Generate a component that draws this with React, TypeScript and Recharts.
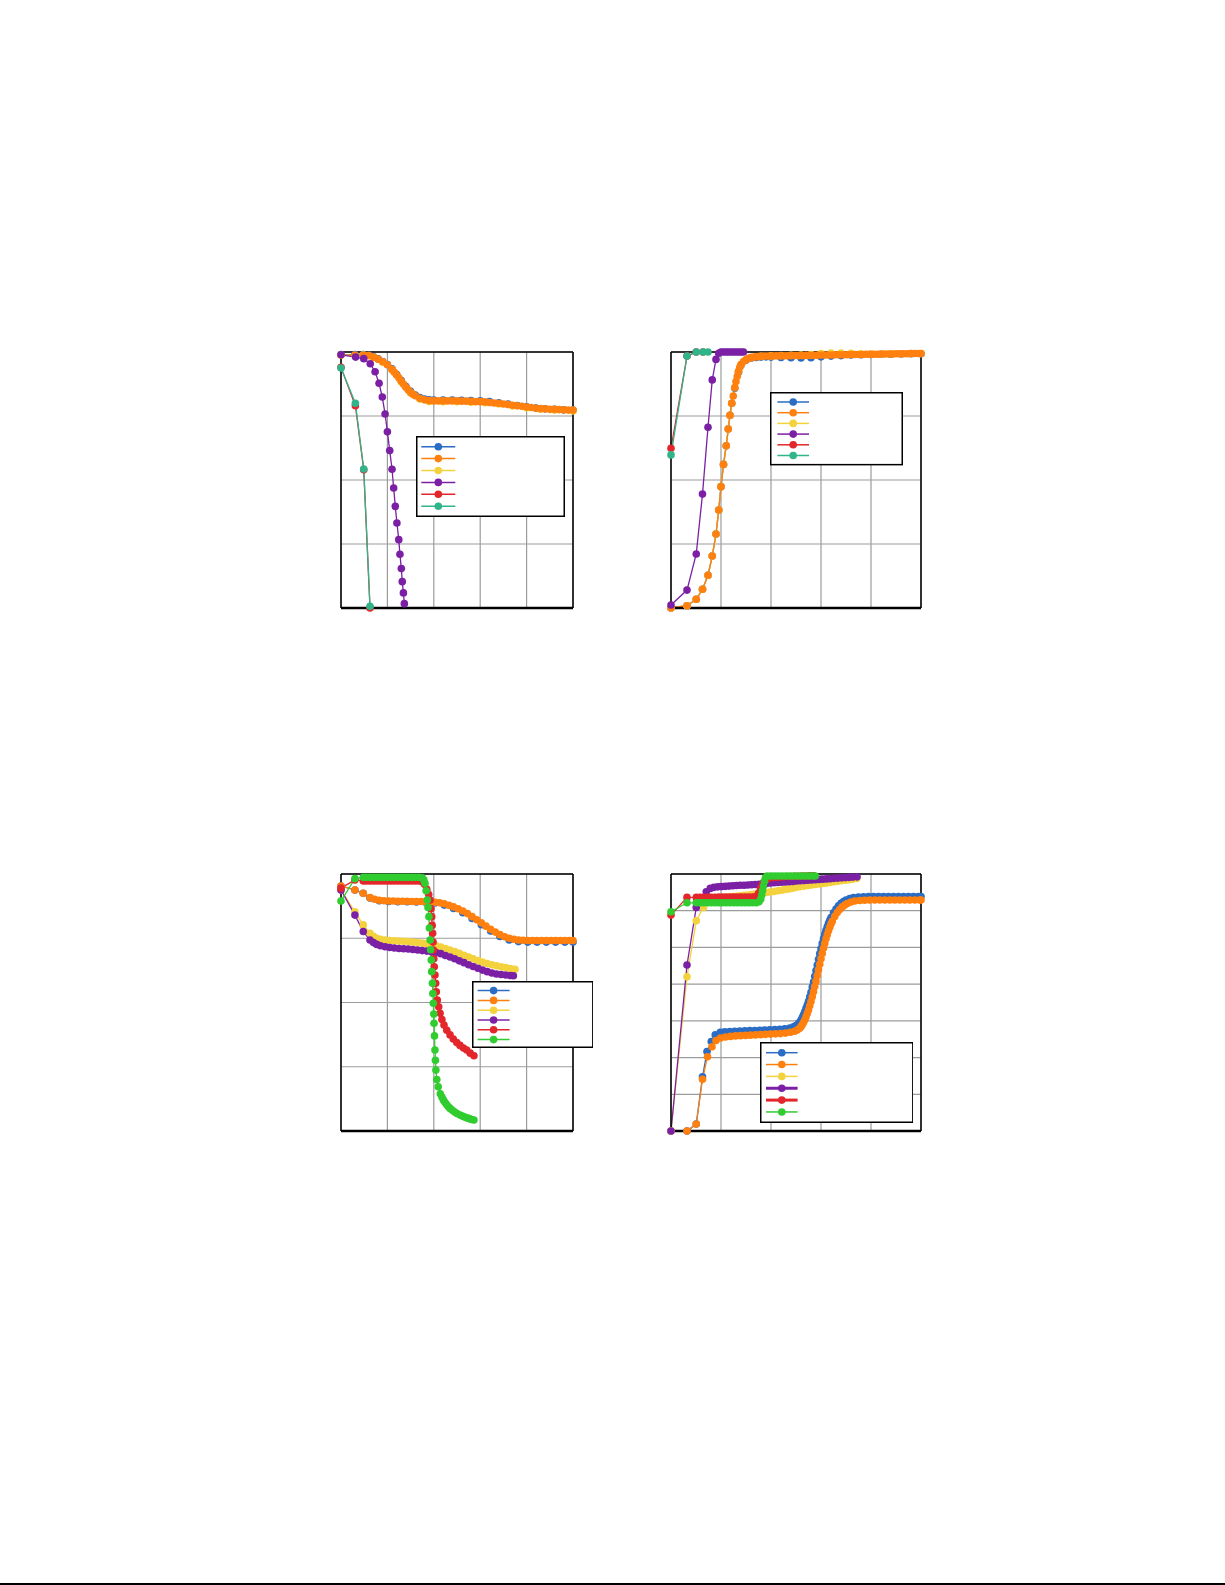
import { CartesianGrid, Legend, Line, LineChart, XAxis, YAxis } from 'recharts'

type Pt = [number, number]

// ---- top left panel
const c1Blue: Pt[] = [[0,0.99],[6,0.99],[9.6,0.99],[12,0.987],[14,0.981],[16,0.973],[18,0.963],[20,0.951],[22,0.934],[24,0.912],[26,0.888],[28,0.865],[30,0.846],[32,0.832],[34,0.822],[36,0.816],[38,0.813],[40,0.812],[44,0.812],[48,0.812],[52,0.811],[56,0.81],[60,0.809],[64,0.806],[68,0.802],[72,0.797],[76,0.791],[80,0.786],[84,0.781],[88,0.778],[92,0.776],[96,0.774],[100,0.773]]
const c1Orange: Pt[] = [[0,0.988],[6,0.988],[9.6,0.988],[12,0.986],[14,0.98],[16,0.972],[18,0.962],[20,0.95],[22,0.932],[23,0.921],[24,0.91],[25,0.898],[26,0.886],[27,0.874],[28,0.862],[29,0.852],[30,0.843],[31,0.835],[32,0.829],[34,0.819],[36,0.813],[38,0.81],[40,0.809],[42,0.809],[44,0.809],[46,0.809],[48,0.809],[50,0.809],[52,0.808],[54,0.808],[56,0.807],[58,0.806],[60,0.806],[62,0.805],[64,0.803],[66,0.801],[68,0.8],[70,0.797],[72,0.795],[74,0.792],[76,0.79],[78,0.788],[80,0.785],[82,0.783],[84,0.78],[86,0.779],[88,0.778],[90,0.776],[92,0.776],[94,0.775],[96,0.774],[98,0.773],[100,0.773]]
const c1Yellow: Pt[] = [[0,0.988],[9.6,0.988],[14,0.979],[18,0.96],[22,0.93],[26,0.883],[30,0.84],[34,0.816],[38,0.807],[44,0.806],[50,0.806],[56,0.804],[62,0.802],[68,0.797],[74,0.789],[80,0.782],[86,0.776],[92,0.773],[100,0.77]]
const c1Purple: Pt[] = [[0,0.989],[6.3,0.98],[9.8,0.974],[12.6,0.954],[14.7,0.923],[16.4,0.878],[17.8,0.824],[19,0.758],[20,0.688],[21,0.615],[22,0.542],[22.7,0.469],[23.4,0.397],[24.1,0.332],[24.9,0.267],[25.4,0.21],[26,0.154],[26.4,0.103],[26.9,0.059],[27.3,0.017]]
const c1Red: Pt[] = [[0,0.94],[6.2,0.79],[9.8,0.54],[12.5,0]]
const c1Teal: Pt[] = [[0,0.9375],[6.2,0.8],[9.8,0.543],[12.5,0.007]]

// ---- top right panel
const c2Orange: Pt[] = [[0,0],[6.4,0.009],[10.1,0.034],[12.6,0.073],[14.8,0.128],[16.5,0.203],[18,0.289],[19.1,0.383],[20,0.474],[21,0.561],[22.1,0.634],[22.9,0.699],[23.6,0.753],[24.3,0.8],[24.9,0.828],[25.5,0.861],[26,0.885],[26.5,0.905],[27,0.925],[27.5,0.94],[28,0.951],[29,0.963],[30,0.97],[31,0.975],[32,0.978],[33,0.98],[34,0.981],[35,0.982],[36,0.983],[37.5,0.984],[39,0.984],[40.5,0.984],[42,0.985],[43.5,0.985],[45,0.985],[46.5,0.985],[48,0.986],[49.5,0.986],[51,0.986],[52.5,0.986],[54,0.987],[55.5,0.987],[57,0.987],[58.5,0.987],[60,0.988],[61.5,0.988],[63,0.988],[64.5,0.988],[66,0.989],[67.5,0.989],[69,0.989],[70.5,0.989],[72,0.99],[73.5,0.99],[75,0.99],[76.5,0.99],[78,0.991],[79.5,0.991],[81,0.991],[82.5,0.991],[84,0.992],[85.5,0.992],[87,0.992],[88.5,0.992],[90,0.993],[91.5,0.993],[93,0.993],[94.5,0.993],[96,0.994],[97.5,0.994],[99,0.994],[100,0.994]]
const c2Blue: Pt[] = [[0,0],[6.4,0.009],[10.1,0.034],[12.6,0.073],[14.8,0.128],[16.5,0.203],[18,0.289],[19.1,0.383],[20,0.474],[21,0.561],[22.1,0.634],[22.9,0.699],[23.6,0.753],[24.3,0.8],[25.5,0.858],[27,0.921],[28,0.948],[30,0.968],[32,0.976],[34,0.979],[36,0.98],[38,0.981],[40,0.98],[44,0.979],[48,0.978],[52,0.977],[56,0.978],[60,0.981],[64,0.984],[68,0.986],[72,0.988],[76,0.989],[80,0.99],[84,0.991],[88,0.991],[92,0.992],[96,0.993],[100,0.993]]
const c2Yellow: Pt[] = [[0,0],[6.4,0.009],[10.1,0.034],[12.6,0.073],[14.8,0.128],[16.5,0.203],[18,0.289],[19.1,0.383],[20,0.474],[21,0.561],[22.1,0.634],[22.9,0.699],[23.6,0.753],[24.3,0.8],[25.5,0.861],[27,0.925],[28,0.951],[30,0.97],[32,0.978],[36,0.983],[40,0.985],[44,0.986],[48,0.987],[52,0.988],[56,0.99],[60,0.994],[64,0.996],[68,0.996],[72,0.995],[76,0.993],[80,0.992],[84,0.992],[88,0.993],[92,0.993],[96,0.994],[100,0.994]]
const c2Purple: Pt[] = [[0,0.012],[6.4,0.07],[10.1,0.211],[12.6,0.445],[14.8,0.706],[16.5,0.891],[18,0.971],[19.1,0.995],[20,1],[21,1],[22,1],[23,1],[24,1],[25,1],[26,1],[27,1],[28,1],[29,1]]
const c2Red: Pt[] = [[0,0.624],[6.4,0.984],[10.1,1],[12.8,1]]
const c2Teal: Pt[] = [[0,0.598],[6.4,0.984],[10.1,1],[12.8,1],[14.8,1]]

// ---- bottom left panel
const c3Blue: Pt[] = [[0,0.953],[6,0.938],[9.6,0.925],[12.5,0.907],[16.5,0.896],[20.5,0.893],[24.5,0.892],[28.5,0.892],[32.5,0.891],[36.5,0.89],[40.5,0.887],[44.5,0.879],[48.5,0.866],[52.5,0.849],[56.5,0.827],[60.5,0.803],[64.5,0.778],[68.5,0.757],[72.5,0.743],[76.5,0.737],[80.5,0.735],[84.5,0.735],[88.5,0.735],[92.5,0.735],[96.5,0.735],[100,0.735]]
const c3Orange: Pt[] = [[0,0.953],[6,0.938],[9.6,0.925],[12.5,0.908],[14.5,0.902],[16.5,0.898],[18.5,0.896],[20.5,0.895],[22.5,0.895],[24.5,0.894],[26.5,0.894],[28.5,0.894],[30.5,0.893],[32.5,0.893],[34.5,0.893],[36.5,0.892],[38.5,0.891],[40.5,0.89],[42.5,0.888],[44.5,0.884],[46.5,0.878],[48.5,0.872],[50.5,0.865],[52.5,0.856],[54.5,0.846],[56.5,0.834],[58.5,0.822],[60.5,0.81],[62.5,0.797],[64.5,0.785],[66.5,0.774],[68.5,0.764],[70.5,0.756],[72.5,0.75],[74.5,0.746],[76.5,0.743],[78.5,0.742],[80.5,0.741],[82.5,0.741],[84.5,0.741],[86.5,0.741],[88.5,0.741],[90.5,0.741],[92.5,0.741],[94.5,0.741],[96.5,0.741],[98.5,0.741],[100,0.741]]
const c3Yellow: Pt[] = [[0,0.938],[6,0.853],[9.6,0.802],[12.5,0.769],[14,0.758],[15.4,0.75],[17,0.746],[19,0.743],[21,0.741],[23,0.74],[25,0.739],[27,0.738],[29,0.737],[31,0.735],[33,0.733],[35,0.731],[37,0.728],[39,0.725],[41,0.721],[43,0.716],[45,0.71],[47,0.704],[49,0.698],[51,0.691],[53,0.684],[55,0.677],[57,0.67],[59,0.663],[61,0.657],[63,0.652],[65,0.647],[67,0.643],[69,0.639],[71,0.636],[73,0.632],[75,0.629]]
const c3Purple: Pt[] = [[0,0.938],[6,0.84],[9.6,0.776],[12.5,0.743],[14,0.733],[15.4,0.726],[17,0.721],[19,0.717],[21,0.714],[23,0.712],[25,0.71],[27,0.709],[29,0.708],[31,0.706],[33,0.704],[35,0.702],[37,0.7],[39,0.697],[41,0.694],[43,0.69],[45,0.683],[47,0.677],[49,0.67],[51,0.662],[53,0.655],[55,0.647],[57,0.64],[59,0.633],[61,0.626],[63,0.62],[65,0.615],[67,0.611],[69,0.609],[71,0.607],[73,0.605],[74.3,0.604]]
const c3Red: Pt[] = [[0,0.945],[6,0.977],[9.6,0.973],[11,0.973],[12.5,0.973],[14,0.973],[15.5,0.973],[17,0.973],[18.5,0.973],[20,0.973],[21.5,0.973],[23,0.973],[24.5,0.973],[26,0.973],[27.5,0.973],[29,0.973],[30.5,0.973],[32,0.973],[33.5,0.973],[35,0.97],[36,0.96],[37,0.94],[37.8,0.92],[38.4,0.899],[38.8,0.865],[39.1,0.834],[39.3,0.8],[39.5,0.769],[39.7,0.735],[39.8,0.704],[40,0.67],[40.2,0.639],[40.5,0.607],[40.8,0.575],[41.1,0.542],[41.5,0.51],[42.1,0.483],[42.7,0.458],[43.5,0.434],[44.4,0.412],[45.6,0.392],[47,0.374],[48.4,0.358],[49.9,0.344],[51.3,0.333],[52.8,0.323],[54.2,0.315],[55.7,0.303],[57.3,0.293]]
const c3Green: Pt[] = [[0,0.895],[6,0.982],[9.6,0.987],[11,0.987],[12.5,0.987],[14,0.987],[15.5,0.987],[17,0.987],[18.5,0.987],[20,0.987],[21.5,0.987],[23,0.987],[24.5,0.987],[26,0.987],[27.5,0.987],[29,0.987],[30.5,0.987],[32,0.987],[33.5,0.987],[35,0.985],[35.7,0.977],[36.2,0.964],[36.7,0.935],[37.2,0.899],[37.5,0.87],[37.9,0.834],[38.1,0.79],[38.4,0.743],[38.6,0.705],[38.9,0.665],[39.1,0.62],[39.4,0.575],[39.6,0.535],[39.8,0.497],[40,0.455],[40.1,0.419],[40.3,0.37],[40.5,0.315],[40.7,0.275],[40.9,0.237],[41.3,0.2],[41.9,0.172],[42.8,0.145],[43.5,0.132],[44.1,0.121],[44.8,0.112],[45.5,0.103],[46.2,0.095],[47,0.088],[48,0.081],[49,0.074],[50,0.068],[51.3,0.062],[52.3,0.058],[53.3,0.054],[54.3,0.051],[55.3,0.048],[56.3,0.045],[57.3,0.043]]

// ---- bottom right panel
const c4Blue: Pt[] = [[0,0],[6.4,0],[10.1,0.027],[12.6,0.211],[14.4,0.309],[16.1,0.348],[17.7,0.374],[19.7,0.384],[21.5,0.386],[23.5,0.387],[25.5,0.388],[27.5,0.389],[29.5,0.39],[31.5,0.391],[33.5,0.391],[35.5,0.392],[37.5,0.393],[39.5,0.394],[41.5,0.395],[43.5,0.396],[45.5,0.398],[47.5,0.401],[49,0.405],[50,0.41],[51,0.418],[51.5,0.424],[52,0.432],[52.5,0.441],[53,0.452],[53.5,0.464],[54,0.477],[54.5,0.49],[55,0.505],[55.5,0.522],[56,0.54],[56.5,0.56],[57,0.58],[57.5,0.602],[58,0.624],[58.5,0.646],[59,0.668],[59.5,0.69],[60,0.71],[60.5,0.73],[61,0.748],[61.5,0.765],[62,0.781],[62.5,0.795],[63,0.808],[63.5,0.82],[64,0.831],[65,0.849],[66,0.864],[67,0.876],[68,0.886],[69,0.893],[70,0.899],[71.5,0.904],[73,0.908],[75,0.91],[77,0.911],[79,0.912],[81,0.912],[83,0.912],[85,0.912],[87,0.912],[89,0.912],[91,0.912],[93,0.912],[95,0.912],[97,0.912],[99,0.912],[100,0.912]]
const c4Orange: Pt[] = [[0,0],[6.4,0],[10.1,0.027],[12.6,0.201],[14.6,0.289],[16.4,0.328],[18,0.352],[19.8,0.362],[21.8,0.366],[23.8,0.368],[25.8,0.37],[27.8,0.371],[29.8,0.372],[31.8,0.373],[33.8,0.374],[35.8,0.375],[37.8,0.376],[39.8,0.377],[41.8,0.378],[43.8,0.379],[45.8,0.381],[47.8,0.384],[49.5,0.388],[50.5,0.393],[51.5,0.4],[52,0.406],[52.5,0.413],[53,0.422],[53.5,0.432],[54,0.444],[54.5,0.457],[55,0.471],[55.5,0.487],[56,0.504],[56.5,0.522],[57,0.542],[57.5,0.562],[58,0.583],[58.5,0.605],[59,0.627],[59.5,0.649],[60,0.67],[60.5,0.691],[61,0.711],[61.5,0.73],[62,0.748],[62.5,0.764],[63,0.779],[63.5,0.793],[64,0.805],[64.5,0.816],[65.5,0.835],[66.5,0.85],[67.5,0.862],[68.5,0.872],[69.5,0.879],[70.5,0.885],[72,0.891],[73.5,0.895],[75.5,0.897],[77.5,0.898],[79.5,0.899],[81.5,0.899],[83.5,0.899],[85.5,0.899],[87.5,0.899],[89.5,0.899],[91.5,0.899],[93.5,0.899],[95.5,0.899],[97.5,0.899],[99.5,0.899],[100,0.899]]
const c4Yellow: Pt[] = [[0,0],[6.4,0.6],[10.1,0.818],[13,0.87],[15.7,0.899],[17.2,0.902],[18.7,0.905],[20.2,0.907],[21.7,0.909],[23.2,0.91],[24.7,0.912],[26.2,0.913],[27.7,0.915],[29.2,0.917],[30.7,0.918],[32.2,0.92],[33.7,0.922],[35.2,0.924],[36.7,0.926],[38.2,0.928],[39.7,0.93],[41.2,0.932],[42.7,0.935],[44.2,0.937],[45.7,0.94],[47.2,0.942],[48.7,0.945],[50.2,0.948],[51.7,0.951],[53.2,0.953],[54.7,0.955],[56.2,0.957],[57.7,0.959],[59.2,0.961],[60.7,0.963],[62.2,0.965],[63.7,0.967],[65.2,0.97],[66.7,0.972],[68.2,0.974],[69.7,0.976],[71.2,0.978],[72.7,0.98],[74.4,0.983]]
const c4Purple: Pt[] = [[0,0],[6.4,0.646],[10.1,0.87],[14.1,0.931],[15.7,0.944],[17.2,0.948],[18.7,0.95],[20.2,0.951],[21.7,0.952],[23.2,0.953],[24.7,0.954],[26.2,0.955],[27.7,0.956],[29.2,0.956],[30.7,0.957],[32.2,0.958],[33.7,0.959],[35.2,0.96],[36.7,0.962],[38.2,0.963],[39.7,0.965],[41.2,0.966],[42.7,0.967],[44.2,0.968],[45.7,0.969],[47.2,0.97],[48.7,0.971],[50.2,0.973],[51.7,0.974],[53.2,0.975],[54.7,0.976],[56.2,0.977],[57.7,0.978],[59.2,0.979],[60.7,0.98],[62.2,0.981],[63.7,0.982],[65.2,0.983],[66.7,0.984],[68.2,0.985],[69.7,0.986],[71.2,0.987],[72.7,0.988],[74.4,0.989]]
const c4Red: Pt[] = [[0,0.84],[6.4,0.909],[10.1,0.909],[11.6,0.909],[13.1,0.909],[14.6,0.909],[16.1,0.909],[17.6,0.909],[19.1,0.91],[20.6,0.91],[22.1,0.91],[23.6,0.91],[25.1,0.91],[26.6,0.91],[28.1,0.91],[29.6,0.91],[31.1,0.91],[32.6,0.91],[34,0.912],[35,0.925],[35.8,0.942],[36.5,0.958],[37.2,0.97],[38,0.978],[39,0.983],[40.5,0.986],[42,0.987],[43.5,0.988],[45,0.989],[46.5,0.99],[48,0.99],[49.5,0.991],[51,0.991],[52.5,0.992],[54,0.992],[55.5,0.993],[57,0.993]]
const c4Green: Pt[] = [[0,0.853],[6.4,0.888],[10.1,0.888],[11.6,0.888],[13.1,0.888],[14.6,0.888],[16.1,0.888],[17.6,0.888],[19.1,0.888],[20.6,0.888],[22.1,0.888],[23.6,0.888],[25.1,0.888],[26.6,0.888],[28.1,0.888],[29.6,0.888],[31.1,0.888],[32.6,0.888],[34.1,0.888],[35.2,0.892],[35.9,0.903],[36.3,0.918],[36.6,0.935],[37,0.953],[37.4,0.972],[37.8,0.986],[38.5,0.992],[40,0.992],[41.5,0.992],[43,0.992],[44.5,0.992],[46,0.992],[47.5,0.992],[49,0.992],[50.5,0.992],[52,0.992],[53.5,0.992],[55,0.992],[56.5,0.992],[57.7,0.992]]

// ---- axes
const gridX = [0, 20, 40, 60, 80, 100]
const minorX = [14.6, 34.6, 54.6, 74.6, 94.6]
const gridY = [0, 0.25, 0.5, 0.75, 1]
const gridY7 = [0, 0.142857, 0.285714, 0.428571, 0.571429, 0.714286, 0.857143, 1]
const minorY1 = [0.225, 0.475, 0.725, 0.975]
const minorY2 = [0.125, 0.375, 0.625, 0.875]
const minorY3 = [0.215, 0.465, 0.715, 0.965]
const minorY4 = [0.071, 0.214, 0.357, 0.5, 0.643, 0.786, 0.929]

const colors = {
  blue: '#2b6cc4',
  orange: '#ff800e',
  yellow: '#f3d23e',
  purple: '#7b20a4',
  red: '#e2262b',
  teal: '#30b48a',
  green: '#30cc30',
}

interface Series { data: Pt[]; color: string }
interface LegendItem { color: string; thick?: boolean }
interface BoxSpec { left: number; top: number; w: number; h: number; rowTop: number; rowGap: number; x1: number; x2: number }

const toRows = (pts: Pt[]) => pts.map(([x, y]) => ({ x, y }))

function LegendBox({ items, box }: { items: LegendItem[]; box: BoxSpec }) {
  const cx = (box.x1 + box.x2) / 2
  return (
    <svg width={box.w} height={box.h} style={{ display: 'block' }}>
      <rect x={0.75} y={0.75} width={box.w - 1.5} height={box.h - 1.5} fill="#fff" stroke="#000" strokeWidth={1.5} />
      {items.map((it, i) => {
        const y = box.rowTop + i * box.rowGap
        return (
          <g key={i}>
            <line x1={box.x1} x2={box.x2} y1={y} y2={y} stroke={it.color} strokeWidth={it.thick ? 3 : 1.5} />
            <circle cx={cx} cy={y} r={3.8} fill={it.color} />
          </g>
        )
      })}
    </svg>
  )
}

interface PanelProps {
  left: number
  top: number
  plotW: number
  plotH: number
  rightPad?: number
  yGrid: number[]
  yMinor: number[]
  series: Series[]
  legend: LegendItem[]
  box: BoxSpec
}

// grid positions go through the axis scale when recharts hands it over
function gridXs(values: number[]) {
  return ({ xAxis, offset }: any) =>
    values.map((v) => (typeof xAxis?.scale === 'function' ? xAxis.scale(v) : offset.left + (offset.width * v) / 100))
}
function gridYs(values: number[]) {
  return ({ yAxis, offset }: any) =>
    values.map((v) => (typeof yAxis?.scale === 'function' ? yAxis.scale(v) : offset.top + offset.height * (1 - v)))
}

function Panel({ left, top, plotW, plotH, rightPad = 10, yGrid, yMinor, series, legend, box }: PanelProps) {
  const frame = { stroke: '#000', strokeWidth: 1.5 }
  // every axis is mirrored, so none of them takes room from the plot area
  return (
    <div style={{ position: 'absolute', left, top }}>
      <LineChart width={plotW + 10 + rightPad} height={plotH + 20} margin={{ top: 10, right: rightPad, bottom: 10, left: 10 }}>
        <CartesianGrid
          stroke="#9c9c9c"
          strokeWidth={1.2}
          verticalCoordinatesGenerator={gridXs(gridX)}
          horizontalCoordinatesGenerator={gridYs(yGrid)}
        />
        <XAxis type="number" dataKey="x" domain={[0, 100]} ticks={gridX} interval={0} tick={false} mirror tickSize={6}
          height={1} axisLine={{ stroke: '#000', strokeWidth: 2.5 }} tickLine={{ stroke: '#000', strokeWidth: 1.6 }} />
        <XAxis xAxisId="minor" type="number" dataKey="x" domain={[0, 100]} ticks={minorX} interval={0} tick={false} mirror
          tickSize={5} height={1} axisLine={false} tickLine={{ stroke: '#000', strokeWidth: 1 }} />
        <XAxis xAxisId="top" orientation="top" type="number" dataKey="x" domain={[0, 100]} ticks={gridX} interval={0}
          tick={false} tickLine={false} mirror height={1} axisLine={frame} />
        <YAxis type="number" domain={[0, 1]} ticks={yGrid} interval={0} tick={false} mirror tickSize={7} width={1}
          axisLine={frame} tickLine={{ stroke: '#000', strokeWidth: 1.6 }} />
        <YAxis yAxisId="minor" type="number" domain={[0, 1]} ticks={yMinor} interval={0} tick={false} mirror tickSize={5}
          width={1} axisLine={false} tickLine={{ stroke: '#000', strokeWidth: 1 }} />
        <YAxis yAxisId="right" orientation="right" type="number" domain={[0, 1]} ticks={yGrid} interval={0} tick={false}
          tickLine={false} mirror width={1} axisLine={frame} />
        {series.map((s, i) => (
          <Line
            key={i}
            data={toRows(s.data)}
            dataKey="y"
            type="linear"
            stroke={s.color}
            strokeWidth={1.3}
            dot={{ r: 3.8, fill: s.color, stroke: s.color, strokeWidth: 0 }}
            activeDot={false}
            isAnimationActive={false}
          />
        ))}
        <Legend
          layout="horizontal"
          align="center"
          verticalAlign="middle"
          content={() => <LegendBox items={legend} box={box} />}
          wrapperStyle={{ left: box.left, top: box.top, width: box.w, height: box.h }}
        />
      </LineChart>
    </div>
  )
}

const legendTeal: LegendItem[] = [
  { color: colors.blue }, { color: colors.orange }, { color: colors.yellow },
  { color: colors.purple }, { color: colors.red }, { color: colors.teal },
]
const legendGreen: LegendItem[] = [
  { color: colors.blue }, { color: colors.orange }, { color: colors.yellow },
  { color: colors.purple }, { color: colors.red }, { color: colors.green },
]
const legendGreenThick: LegendItem[] = [
  { color: colors.blue }, { color: colors.orange }, { color: colors.yellow },
  { color: colors.purple, thick: true }, { color: colors.red, thick: true }, { color: colors.green },
]

export default function App() {
  return (
    <div style={{ position: 'absolute', left: 0, top: 0, width: 1225, height: 1585, background: '#fff' }}>
      <Panel
        left={331} top={342} plotW={232} plotH={256} yGrid={gridY} yMinor={minorY1}
        series={[
          { data: c1Blue, color: colors.blue }, { data: c1Yellow, color: colors.yellow },
          { data: c1Orange, color: colors.orange }, { data: c1Purple, color: colors.purple },
          { data: c1Red, color: colors.red }, { data: c1Teal, color: colors.teal },
        ]}
        legend={legendTeal}
        box={{ left: 84.7, top: 94, w: 149, h: 81, rowTop: 10.7, rowGap: 11.9, x1: 5.3, x2: 39.3 }}
      />
      <Panel
        left={661} top={342} plotW={250} plotH={256} yGrid={gridY} yMinor={minorY2}
        series={[
          { data: c2Blue, color: colors.blue }, { data: c2Yellow, color: colors.yellow },
          { data: c2Orange, color: colors.orange }, { data: c2Purple, color: colors.purple },
          { data: c2Red, color: colors.red }, { data: c2Teal, color: colors.teal },
        ]}
        legend={legendTeal}
        box={{ left: 109.3, top: 50.3, w: 133, h: 73.4, rowTop: 10, rowGap: 10.7, x1: 7.4, x2: 39 }}
      />
      <Panel
        left={331} top={864} plotW={232} plotH={257} rightPad={30} yGrid={gridY} yMinor={minorY3}
        series={[
          { data: c3Blue, color: colors.blue }, { data: c3Orange, color: colors.orange },
          { data: c3Yellow, color: colors.yellow }, { data: c3Purple, color: colors.purple },
          { data: c3Red, color: colors.red }, { data: c3Green, color: colors.green },
        ]}
        legend={legendGreen}
        box={{ left: 140.7, top: 116.7, w: 121.6, h: 67, rowTop: 9.6, rowGap: 9.8, x1: 5.6, x2: 37.6 }}
      />
      <Panel
        left={661} top={864} plotW={250} plotH={257} yGrid={gridY7} yMinor={minorY4}
        series={[
          { data: c4Blue, color: colors.blue }, { data: c4Orange, color: colors.orange },
          { data: c4Yellow, color: colors.yellow }, { data: c4Purple, color: colors.purple },
          { data: c4Red, color: colors.red }, { data: c4Green, color: colors.green },
        ]}
        legend={legendGreenThick}
        box={{ left: 98.7, top: 178.3, w: 153.6, h: 81, rowTop: 10.7, rowGap: 11.85, x1: 6, x2: 37.6 }}
      />
      <div style={{ position: 'absolute', left: 0, top: 1583, width: 1225, height: 1.5, background: '#000' }} />
    </div>
  )
}
